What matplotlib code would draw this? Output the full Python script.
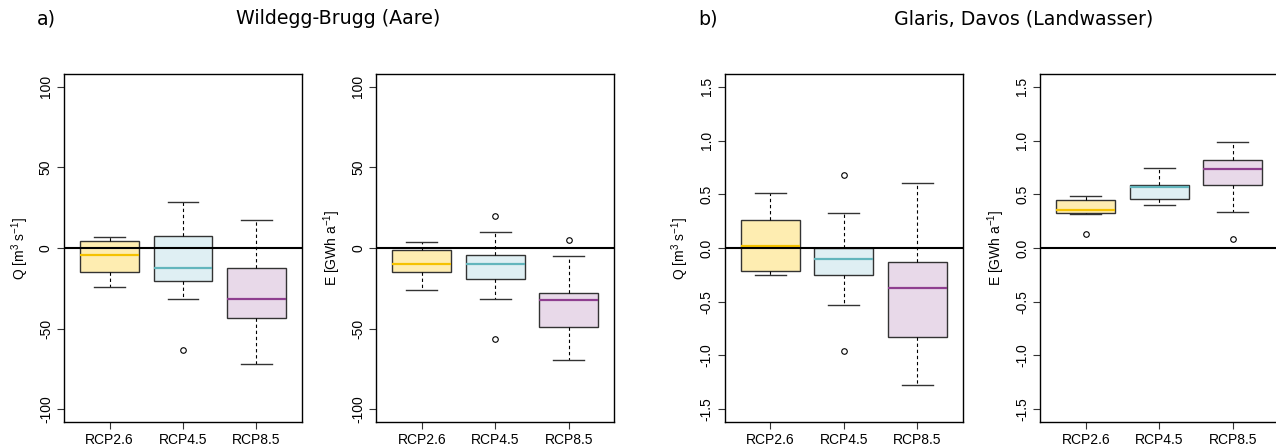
import matplotlib
matplotlib.use("Agg")
import matplotlib.pyplot as plt

scenarios = ["RCP2.6", "RCP4.5", "RCP8.5"]

# box stats: whislo, q1, med, q3, whishi, fliers
aare_q = [
    (-24.4, -14.9, -4.1, 4.3, 6.8, []),
    (-31.7, -20.3, -12.4, 7.2, 28.8, [-63.1]),
    (-71.8, -43.7, -31.7, -12.6, 17.2, []),
]
aare_e = [
    (-26.3, -14.9, -9.7, -1.4, 3.5, []),
    (-31.5, -19.5, -9.9, -4.6, 9.7, [20.1, -56.3]),
    (-69.4, -49.1, -32.3, -28.0, -5.2, [5.2]),
]
landwasser_q = [
    (-0.252, -0.214, 0.022, 0.264, 0.509, []),
    (-0.528, -0.252, -0.099, 0.0, 0.329, [0.680, -0.957]),
    (-1.276, -0.832, -0.373, -0.130, 0.602, []),
]
landwasser_e = [
    (0.317, 0.323, 0.354, 0.447, 0.488, [0.134]),
    (0.401, 0.460, 0.568, 0.590, 0.748, []),
    (0.335, 0.590, 0.739, 0.820, 0.984, [0.084]),
]

fill_colors = ["#feedb1", "#dfeff3", "#e8d9e9"]
median_colors = ["#f5c200", "#62b5bc", "#8e3f8f"]

panels = [
    (aare_q, r"Q [m$^3$ s$^{-1}$]", 100, [-100, -50, 0, 50, 100], ["-100", "-50", "0", "50", "100"]),
    (aare_e, r"E [GWh a$^{-1}$]", 100, [-100, -50, 0, 50, 100], ["-100", "-50", "0", "50", "100"]),
    (landwasser_q, r"Q [m$^3$ s$^{-1}$]", 1.5, [-1.5, -1.0, -0.5, 0, 0.5, 1.0, 1.5],
     ["-1.5", "-1.0", "-0.5", "0.0", "0.5", "1.0", "1.5"]),
    (landwasser_e, r"E [GWh a$^{-1}$]", 1.5, [-1.5, -1.0, -0.5, 0, 0.5, 1.0, 1.5],
     ["-1.5", "-1.0", "-0.5", "0.0", "0.5", "1.0", "1.5"]),
]

W, H = 1276, 448
lefts = [64, 376.3, 724.7, 1040.3]

plt.rcParams['font.family'] = ['Liberation Sans', 'DejaVu Sans']
plt.rcParams['mathtext.fontset'] = 'custom'
plt.rcParams['mathtext.rm'] = 'Liberation Sans'
plt.rcParams['mathtext.it'] = 'Liberation Sans'

fig = plt.figure(figsize=(W / 100, H / 100), dpi=100)

for left, (data, ylabel, lim, ticks, ticklabels) in zip(lefts, panels):
    ax = fig.add_axes([left / W, 1 - 422 / H, 238 / W, 348 / H])
    stats = []
    for name, (lo, q1, med, q3, hi, fl) in zip(scenarios, data):
        stats.append(dict(label=name, whislo=lo, q1=q1, med=med, q3=q3, whishi=hi, fliers=fl))
    bp = ax.bxp(stats, positions=[1, 2, 3], widths=0.8, patch_artist=True,
                boxprops=dict(edgecolor="#333333", linewidth=1.0),
                whiskerprops=dict(color="black", linestyle=(0, (3, 2.5)), linewidth=0.8),
                capprops=dict(color="#333333", linewidth=1.0),
                flierprops=dict(marker="o", markersize=4, markerfacecolor="none",
                                markeredgecolor="black", markeredgewidth=0.8),
                medianprops=dict(linewidth=1.6))
    for patch, fc in zip(bp["boxes"], fill_colors):
        patch.set_facecolor(fc)
    for med, mc in zip(bp["medians"], median_colors):
        med.set_color(mc)
    for cap in bp["caps"]:
        x0, x1 = cap.get_xdata()
        c = (x0 + x1) / 2
        cap.set_xdata([c - 0.21, c + 0.21])
    ax.axhline(0, color="black", linewidth=1.5, zorder=5)
    ax.set_xlim(0.38, 3.62)
    ax.set_ylim(-lim * 1.08, lim * 1.08)
    ax.set_yticks(ticks)
    ax.set_yticklabels(ticklabels, rotation=90, va="center", fontsize=10)
    ax.set_xticks([1, 2, 3])
    ax.set_xticklabels(scenarios, fontsize=10)
    ax.tick_params(direction="out", length=5, width=0.8, color="#333333", pad=3)
    ax.set_ylabel(ylabel, fontsize=10, labelpad=6)
    for sp in ax.spines.values():
        sp.set_linewidth(1.0)

fig.text(37 / W, 1 - 19 / H, "a)", fontsize=13.7, family="DejaVu Sans", va="center", ha="left")
fig.text(338 / W, 1 - 19 / H, "Wildegg-Brugg (Aare)", fontsize=13.7, family="DejaVu Sans", va="center", ha="center")
fig.text(698 / W, 1 - 19 / H, "b)", fontsize=13.7, family="DejaVu Sans", va="center", ha="left")
fig.text(1024 / W, 1 - 19 / H, "Glaris, Davos (Landwasser)", fontsize=13.7, family="DejaVu Sans", va="center", ha="center")

fig.savefig("out.png", dpi=100)
